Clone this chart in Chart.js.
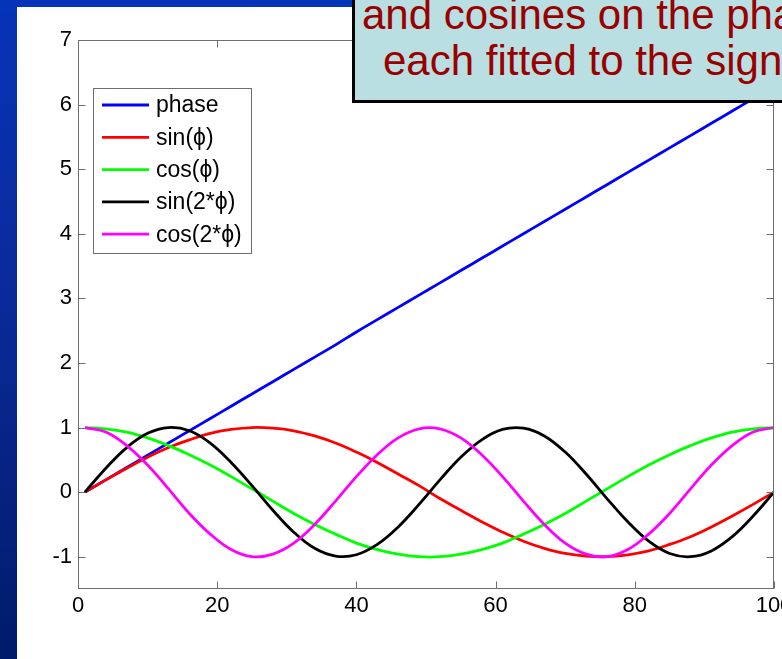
<!DOCTYPE html>
<html><head><meta charset="utf-8">
<script src="https://cdn.jsdelivr.net/npm/chart.js@4/dist/chart.umd.min.js"></script>
<style>
html,body{margin:0;padding:0;}
body{width:782px;height:659px;overflow:hidden;position:relative;background:linear-gradient(to bottom,#0634b8 0%,#0a2a9a 45%,#001b6b 100%);font-family:"Liberation Sans",Arial,sans-serif;}
#panel{position:absolute;left:17px;top:7px;width:765px;height:652px;background:#fff;}
#c{position:absolute;left:0;top:0;}
#title{position:absolute;left:352px;top:-20px;width:486px;height:123px;box-sizing:border-box;border:3px solid #000;background:#b9dfe3;color:#990000;font-size:42px;line-height:42px;white-space:nowrap;}
#title span{position:absolute;display:block;}
</style></head>
<body>
<div id="panel"><canvas id="c" width="765" height="652"></canvas></div>
<div id="title"><span style="left:7px;top:11px;">and cosines on the phase</span><span style="left:28px;top:57px;">each fitted to the signal</span></div>
<script>
const xValues = [1,4,7,10,13,16,19,22,25,28,31,34,37,40,43,46,49,52,55,58,61,64,67,70,73,76,79,82,85,88,91,94,97,100];
const phase   = [0,0.19,0.38,0.57,0.76,0.95,1.14,1.33,1.52,1.71,1.90,2.09,2.28,2.48,2.67,2.86,3.05,3.24,3.43,3.62,3.81,4.00,4.19,4.38,4.57,4.76,4.95,5.14,5.33,5.52,5.71,5.90,6.09,6.28];
const sinPhi  = [0,0.19,0.37,0.54,0.69,0.81,0.91,0.97,1.00,0.99,0.95,0.87,0.76,0.62,0.46,0.28,0.10,-0.10,-0.28,-0.46,-0.62,-0.76,-0.87,-0.95,-0.99,-1.00,-0.97,-0.91,-0.81,-0.69,-0.54,-0.37,-0.19,0];
const cosPhi  = [1,0.98,0.93,0.84,0.72,0.58,0.42,0.24,0.05,-0.14,-0.33,-0.50,-0.65,-0.79,-0.89,-0.96,-1.00,-1.00,-0.96,-0.89,-0.79,-0.65,-0.50,-0.33,-0.14,0.05,0.24,0.42,0.58,0.72,0.84,0.93,0.98,1];
const sin2Phi = [0,0.37,0.69,0.91,1.00,0.95,0.76,0.46,0.10,-0.28,-0.62,-0.87,-0.99,-0.97,-0.81,-0.54,-0.19,0.19,0.54,0.81,0.97,0.99,0.87,0.62,0.28,-0.10,-0.46,-0.76,-0.95,-1.00,-0.91,-0.69,-0.37,0];
const cos2Phi = [1,0.93,0.72,0.42,0.05,-0.33,-0.65,-0.89,-1.00,-0.96,-0.79,-0.50,-0.14,0.24,0.58,0.84,0.98,0.98,0.84,0.58,0.24,-0.14,-0.50,-0.79,-0.96,-1.00,-0.89,-0.65,-0.33,0.05,0.42,0.72,0.93,1];
const seriesNames = ['phase','sin(ϕ)','cos(ϕ)','sin(2*ϕ)','cos(2*ϕ)'];
const xTicks = [0,20,40,60,80,100];
const yTicks = [-1,0,1,2,3,4,5,6,7];

const seriesValues = [phase, sinPhi, cosPhi, sin2Phi, cos2Phi];
const seriesColors = ['#0000ff','#ff0000','#00ff00','#000000','#ff00ff'];
const FONT = '"Liberation Sans", Arial, Helvetica, sans-serif';
const AXIS = '#6e6e6e';

const datasets = seriesValues.map((vals, i) => ({
  label: seriesNames[i],
  data: vals.map((v, j) => ({x: xValues[j], y: v})),
  borderColor: seriesColors[i],
  backgroundColor: seriesColors[i],
  borderWidth: 2.8,
  pointRadius: 0,
  tension: 0.4,
  fill: false,
  order: seriesValues.length - 1 - i
}));

const framePlugin = {
  id: 'frame',
  afterDatasetsDraw(chart) {
    const ctx = chart.ctx, a = chart.chartArea;
    const xs = chart.scales.x, ys = chart.scales.y;
    const L = Math.round(a.left) + 0.5, R = Math.round(a.right) - 0.5;
    const T = Math.round(a.top) + 0.5, B = Math.round(a.bottom) - 0.5;
    ctx.save();
    ctx.strokeStyle = AXIS; ctx.lineWidth = 1;
    ctx.strokeRect(L, T, R - L, B - T);
    ctx.beginPath();
    xTicks.forEach(v => {
      const p = Math.round(xs.getPixelForValue(v)) + 0.5;
      ctx.moveTo(p, B); ctx.lineTo(p, B - 7);
      ctx.moveTo(p, T); ctx.lineTo(p, T + 7);
    });
    yTicks.forEach(v => {
      const p = Math.round(ys.getPixelForValue(v)) + 0.5;
      ctx.moveTo(L, p); ctx.lineTo(L + 7, p);
      ctx.moveTo(R, p); ctx.lineTo(R - 7, p);
    });
    ctx.stroke();
    ctx.restore();
  }
};

const legendPlugin = {
  id: 'boxLegend',
  afterDraw(chart) {
    const ctx = chart.ctx, a = chart.chartArea;
    const x0 = Math.round(a.left) + 15, y0 = Math.round(a.top) + 48, w = 158, h = 165;
    ctx.save();
    ctx.fillStyle = '#fff';
    ctx.fillRect(x0, y0, w, h);
    ctx.strokeStyle = AXIS; ctx.lineWidth = 1;
    ctx.strokeRect(x0 + 0.5, y0 + 0.5, w, h);
    ctx.font = '23px ' + FONT;
    ctx.textBaseline = 'middle';
    chart.data.datasets.forEach((ds, i) => {
      const y = y0 + 17 + i * 32.3;
      ctx.strokeStyle = ds.borderColor; ctx.lineWidth = ds.borderWidth;
      ctx.beginPath(); ctx.moveTo(x0 + 9, y); ctx.lineTo(x0 + 56, y); ctx.stroke();
      ctx.fillStyle = '#000';
      ctx.fillText(ds.label, x0 + 63, y + 1);
    });
    ctx.restore();
  }
};

new Chart(document.getElementById('c'), {
  type: 'line',
  data: { datasets },
  options: {
    responsive: false,
    maintainAspectRatio: false,
    animation: false,
    devicePixelRatio: 1,
    layout: { padding: { top: 33, right: 8, left: 0, bottom: 0 } },
    plugins: { legend: { display: false }, tooltip: { enabled: false } },
    scales: {
      x: {
        type: 'linear', min: 0, max: 100,
        afterBuildTicks: s => { s.ticks = xTicks.map(v => ({value: v})); },
        grid: { display: false, drawTicks: false },
        border: { display: false },
        ticks: { color: '#000', font: { size: 22, family: FONT }, padding: 4, maxRotation: 0, autoSkip: false },
        afterFit: s => { s.height = 70; s.paddingLeft = 0; s.paddingRight = 0; }
      },
      y: {
        type: 'linear', min: -1.5, max: 7,
        afterBuildTicks: s => { s.ticks = yTicks.map(v => ({value: v})); },
        grid: { display: false, drawTicks: false },
        border: { display: false },
        ticks: { color: '#000', font: { size: 22, family: FONT }, padding: 6, autoSkip: false },
        afterFit: s => { s.width = 61; s.paddingTop = 0; s.paddingBottom = 0; }
      }
    }
  },
  plugins: [framePlugin, legendPlugin]
});
</script>
</body></html>
